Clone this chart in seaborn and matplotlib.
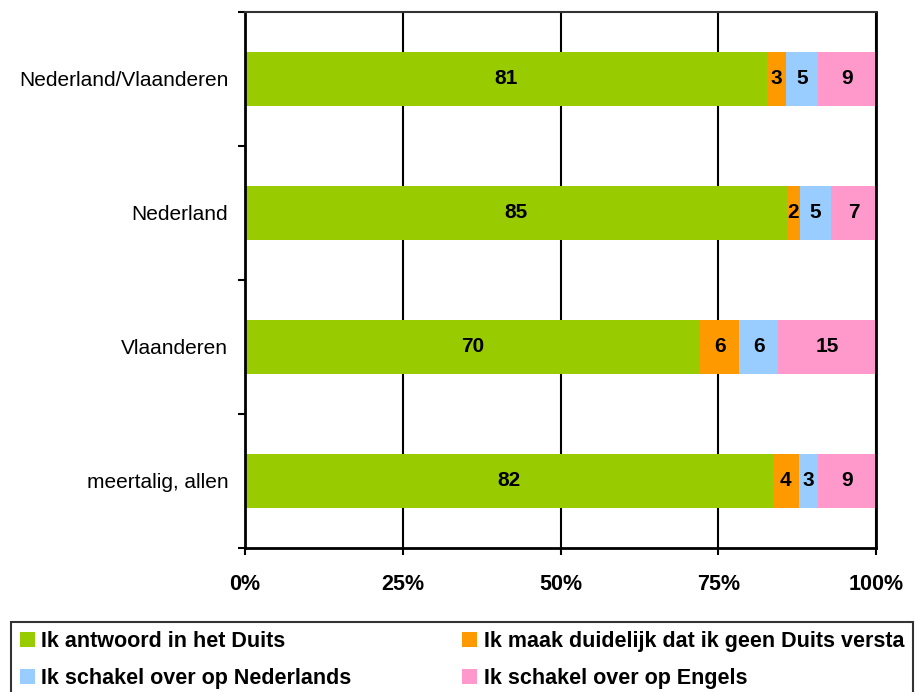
import numpy as np
import pandas as pd
import matplotlib
matplotlib.use("Agg")
import matplotlib.pyplot as plt
import seaborn as sns
from matplotlib.patches import Patch

# data (raw answer shares, rows are scaled to 100%)
groups = ["Nederland/Vlaanderen", "Nederland", "Vlaanderen", "meertalig, allen"]
duits = [81, 85, 70, 82]
niet_versta = [3, 2, 6, 4]
nederlands = [5, 5, 6, 3]
engels = [9, 7, 15, 9]
series_names = [
    "Ik antwoord in het Duits",
    "Ik maak duidelijk dat ik geen Duits versta",
    "Ik schakel over op Nederlands",
    "Ik schakel over op Engels",
]
colors = ["#99CC00", "#FF9900", "#99CCFF", "#FF99CC"]
tick_labels = ["0%", "25%", "50%", "75%", "100%"]

df = pd.DataFrame(
    {series_names[0]: duits, series_names[1]: niet_versta,
     series_names[2]: nederlands, series_names[3]: engels},
    index=groups,
)
pct = df.div(df.sum(axis=1), axis=0) * 100
cum = pct.cumsum(axis=1)

sns.set_style("white")
plt.rcParams["font.family"] = ["Liberation Sans", "DejaVu Sans"]
plt.rcParams["text.color"] = "black"
plt.rcParams["xtick.labelcolor"] = "black"
plt.rcParams["ytick.labelcolor"] = "black"

fig = plt.figure(figsize=(9.15, 6.92), dpi=100)
ax = fig.add_axes([245 / 915, 1 - 548 / 692, 631 / 915, 536 / 692])

# stacked bars: draw cumulative totals from the right-most series down
for i in reversed(range(len(series_names))):
    sns.barplot(
        x=cum.iloc[:, i].values,
        y=groups,
        orient="h",
        color=colors[i],
        saturation=1,
        width=0.41,
        linewidth=0,
        ax=ax,
    )

# value labels in the middle of each segment
for r, g in enumerate(groups):
    for i, name in enumerate(series_names):
        mid = cum.loc[g, name] - pct.loc[g, name] / 2
        ax.text(mid, r, str(df.loc[g, name]), ha="center", va="center",
                fontsize=15, fontweight="bold", color="black")

ax.set_xlim(0, 100)
ax.set_ylim(3.5, -0.5)
ax.set_xticks([0, 25, 50, 75, 100])
ax.set_xticklabels(tick_labels, fontsize=15.5, fontweight="bold", color="black")
ax.set_yticks(range(len(groups)))
ax.set_yticklabels(groups, fontsize=15, color="black")
ax.set_yticks(np.arange(-0.5, len(groups), 1), minor=True)
ax.tick_params(axis="y", which="major", length=0, pad=12)
ax.tick_params(axis="y", which="minor", length=5, width=1.5, color="black", left=True)
ax.tick_params(axis="x", length=5, width=1.5, color="black", bottom=True, pad=14)
ax.set_xlabel("")
ax.set_ylabel("")

ax.xaxis.grid(True, color="black", linewidth=1.5)
ax.set_axisbelow(True)
for side in ["left", "bottom", "right"]:
    ax.spines[side].set_visible(True)
    ax.spines[side].set_color("black")
    ax.spines[side].set_linewidth(2)
ax.spines["top"].set_color("#333333")
ax.spines["top"].set_linewidth(1.5)

handles = [Patch(facecolor=c, edgecolor="none") for c in colors]
order = [0, 2, 1, 3]
leg = fig.legend(
    [handles[k] for k in order],
    [series_names[k] for k in order],
    ncol=2,
    loc="upper left",
    bbox_to_anchor=(11 / 915, 1 - 622 / 692, 902 / 915, 0),
    mode="expand",
    borderaxespad=0,
    frameon=True,
    fancybox=False,
    edgecolor="black",
    handlelength=0.7,
    handleheight=0.7,
    handletextpad=0.3,
    labelspacing=0.75,
    prop={"size": 15.5, "weight": "bold"},
)
leg.get_frame().set_linewidth(1.5)

fig.savefig("out.png", dpi=100)
